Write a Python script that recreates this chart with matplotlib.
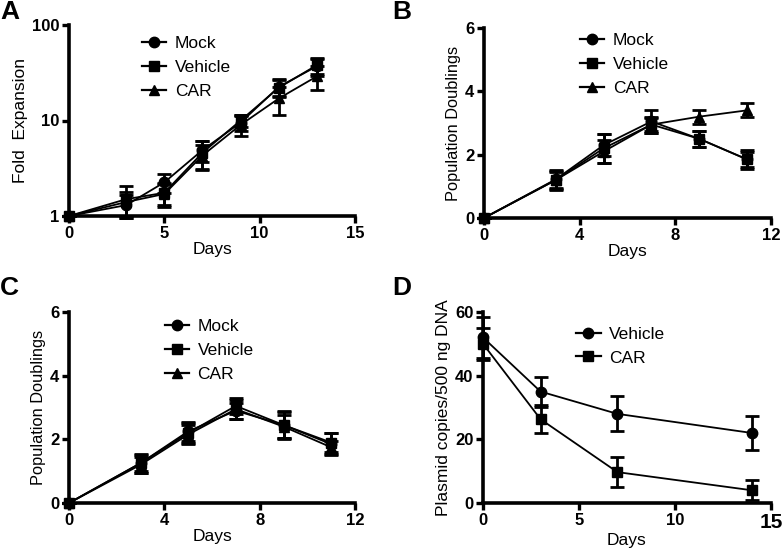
"""plot.py - four-panel growth / plasmid-copy figure (A-D)."""
import numpy as np
import matplotlib; matplotlib.use("Agg")
import matplotlib.pyplot as plt
from matplotlib.lines import Line2D
from matplotlib.ticker import FixedLocator, NullLocator, FixedFormatter

plt.rcParams["font.family"] = ["Liberation Sans", "DejaVu Sans"]

# ── panel A: fold expansion (log) ──
A_days = [0, 3, 5, 7, 9, 11, 13]
A_mock = [1, 1.3, 2.25, 4.9, 9.5, 22.5, 37]
A_mock_err = [0, 0.35, 0.5, 1.2, 1.8, 4.5, 7.5]
A_veh = [1, 1.5, 1.75, 4.6, 10.0, 22.0, 38]
A_veh_err = [0, 0.55, 0.45, 1.5, 1.5, 4.5, 7]
A_car = [1, 1.4, 1.7, 4.3, 9.0, 17, 29]
A_car_err = [0, 0.4, 0.45, 1.3, 2.2, 5.6, 8]

# ── panel B: population doublings ──
B_days = [0, 3, 5, 7, 9, 11]
B_mock = [0, 1.22, 2.3, 3.05, 2.5, 1.85]
B_mock_err = [0, 0.3, 0.35, 0.35, 0.25, 0.25]
B_veh = [0, 1.2, 2.2, 2.95, 2.5, 1.85]
B_veh_err = [0, 0.25, 0.45, 0.2, 0.25, 0.3]
B_car = [0, 1.2, 2.1, 2.95, 3.2, 3.4]
B_car_err = [0, 0.3, 0.35, 0.25, 0.22, 0.22]

# ── panel C: population doublings ──
C_days = [0, 3, 5, 7, 9, 11]
C_mock = [0, 1.25, 2.25, 2.9, 2.45, 1.85]
C_mock_err = [0, 0.3, 0.3, 0.25, 0.45, 0.35]
C_veh = [0, 1.25, 2.2, 3.05, 2.45, 1.9]
C_veh_err = [0, 0.25, 0.3, 0.25, 0.4, 0.3]
C_car = [0, 1.2, 2.15, 2.95, 2.4, 1.75]
C_car_err = [0, 0.25, 0.3, 0.3, 0.35, 0.2]

# ── panel D: plasmid copies ──
D_days = [0, 3, 7, 14]
D_veh = [52, 35, 28, 22]
D_veh_err = [6.3, 4.7, 5.5, 5.3]
D_car = [50, 26.3, 9.7, 4]
D_car_err = [5, 4.4, 4.6, 3.1]

W, H = 782, 549


def style_axes(ax, xticks, yticks, xlabels=None, ylabels=None):
    for s in ("top", "right"):
        ax.spines[s].set_visible(False)
    for s in ("left", "bottom"):
        ax.spines[s].set_linewidth(2.6)
    ax.xaxis.set_major_locator(FixedLocator(xticks))
    ax.yaxis.set_major_locator(FixedLocator(yticks))
    ax.xaxis.set_minor_locator(NullLocator())
    ax.yaxis.set_minor_locator(NullLocator())
    ax.xaxis.set_major_formatter(FixedFormatter(xlabels or [str(t) for t in xticks]))
    ax.yaxis.set_major_formatter(FixedFormatter(ylabels or [str(t) for t in yticks]))
    ax.tick_params(which="major", direction="out", length=5, width=2.4, pad=2)
    for lab in ax.get_xticklabels() + ax.get_yticklabels():
        lab.set_fontweight("bold"); lab.set_fontsize(12)


def series(ax, x, y, e, mk, ms=7.5):
    ax.errorbar(x, y, yerr=e, color="black", lw=1.3, marker=mk, ms=ms,
                elinewidth=2.0, capsize=5, capthick=2.0, clip_on=False,
                zorder=3)


def legend(ax, labels, markers, x, y):
    hs = [Line2D([], [], color="black", lw=1.6, marker=m, ms=7.5) for m in markers]
    ax.legend(hs, labels, loc="upper left", bbox_to_anchor=(x, y),
              frameon=False, fontsize=12.5, handlelength=1.4,
              handletextpad=0.5, labelspacing=0.5, borderaxespad=0)


fig = plt.figure(figsize=(W / 100, H / 100), dpi=100)
axA = fig.add_axes([69 / W, 1 - 216 / H, 286 / W, 191 / H])
axB = fig.add_axes([484 / W, 1 - 218 / H, 287 / W, 190 / H])
axC = fig.add_axes([69 / W, 1 - 503 / H, 286 / W, 191 / H])
axD = fig.add_axes([483 / W, 1 - 503 / H, 288 / W, 191 / H])

GROUPS = ["Mock", "Vehicle", "CAR"]
MK3 = ["o", "s", "^"]

# A
for y, e, m in zip([A_mock, A_veh, A_car], [A_mock_err, A_veh_err, A_car_err], MK3):
    series(axA, A_days, y, e, m)
axA.set_yscale("log")
axA.set_ylim(1, 100); axA.set_xlim(0, 15)
axA.set_xlabel("Days", fontsize=12.5, labelpad=1)
axA.set_ylabel("Fold  Expansion", fontsize=12.5, labelpad=3)
legend(axA, GROUPS, MK3, 0.23, 0.98)
style_axes(axA, [0, 5, 10, 15], [1, 10, 100])

# B
for y, e, m in zip([B_mock, B_veh, B_car], [B_mock_err, B_veh_err, B_car_err], MK3):
    series(axB, B_days, y, e, m)
axB.set_ylim(0, 6); axB.set_xlim(0, 12)
axB.set_xlabel("Days", fontsize=12.5, labelpad=1)
axB.set_ylabel("Population Doublings", fontsize=11.8, labelpad=3)
legend(axB, GROUPS, MK3, 0.31, 1.01)
style_axes(axB, [0, 4, 8, 12], [0, 2, 4, 6])

# C
for y, e, m in zip([C_mock, C_veh, C_car], [C_mock_err, C_veh_err, C_car_err], MK3):
    series(axC, C_days, y, e, m)
axC.set_ylim(0, 6); axC.set_xlim(0, 12)
axC.set_xlabel("Days", fontsize=12.5, labelpad=1)
axC.set_ylabel("Population Doublings", fontsize=11.8, labelpad=3)
legend(axC, GROUPS, MK3, 0.31, 1.0)
style_axes(axC, [0, 4, 8, 12], [0, 2, 4, 6])

# D
series(axD, D_days, D_veh, D_veh_err, "o")
series(axD, D_days, D_car, D_car_err, "s")
axD.set_ylim(0, 60); axD.set_xlim(0, 15)
axD.set_xlabel("Days", fontsize=12.5, labelpad=1)
axD.set_ylabel("Plasmid copies/500 ng DNA", fontsize=12.5, labelpad=3)
legend(axD, ["Vehicle", "CAR"], ["o", "s"], 0.30, 0.96)
style_axes(axD, [0, 5, 10, 15], [0, 20, 40, 60])
axD.get_xticklabels()[-1].set_fontsize(15)

# panel letters
for txt, x, y in [("A", 0, 0), ("B", 392, 0), ("C", 0, 276), ("D", 392, 276)]:
    fig.text(x / W, 1 - y / H, txt, fontsize=19, fontweight="bold",
             ha="left", va="top")

fig.savefig("out.png", dpi=100)
